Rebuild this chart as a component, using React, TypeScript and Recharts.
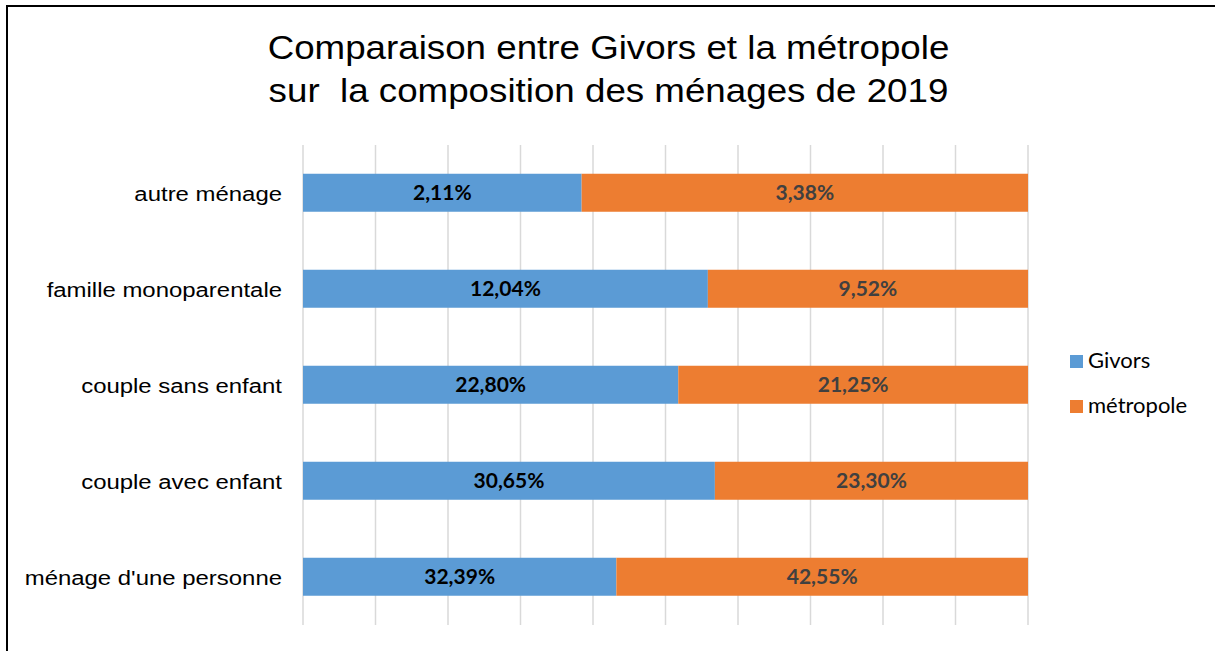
import { BarChart, Bar, XAxis, YAxis, CartesianGrid, LabelList } from "recharts";

const categories = [
  "autre ménage",
  "famille monoparentale",
  "couple sans enfant",
  "couple avec enfant",
  "ménage d'une personne",
];
const givors = [2.11, 12.04, 22.8, 30.65, 32.39];
const metropole = [3.38, 9.52, 21.25, 23.3, 42.55];
const xTicks = [0, 0.1, 0.2, 0.3, 0.4, 0.5, 0.6, 0.7, 0.8, 0.9, 1];

const data = categories.map((name, i) => ({
  name,
  givors: givors[i],
  metropole: metropole[i],
}));

const BLUE = "#5b9bd5";
const ORANGE = "#ed7d31";

const fmt = (v: any) => Number(v).toFixed(2).replace(".", ",") + "%";

function CategoryTick({ x, y, payload }: any) {
  return (
    <text
      x={0}
      y={0}
      transform={`translate(${x},${y}) scale(1.14,1)`}
      textAnchor="end"
      dy="0.36em"
      fontFamily="'Liberation Sans', Arial, sans-serif"
      fontSize={21}
      fill="#000"
    >
      {payload.value}
    </text>
  );
}

const EmptyTick = () => <g />;

const titleLine = {
  position: "absolute" as const,
  left: 0,
  width: 1217,
  textAlign: "center" as const,
  fontFamily: "'Liberation Sans', Arial, sans-serif",
  fontSize: 34,
  color: "#000",
  whiteSpace: "pre" as const,
  transform: "scaleX(1.08)",
  lineHeight: "34px",
};

const legendText = {
  position: "absolute" as const,
  left: 1088,
  fontFamily: "Lato, sans-serif",
  fontSize: 22,
  color: "#000",
  lineHeight: "22px",
};

export default function App() {
  return (
    <div
      style={{
        position: "absolute",
        left: 0,
        top: 0,
        width: 1215,
        height: 651,
        background: "#fff",
        overflow: "hidden",
      }}
    >
      <div
        style={{
          position: "absolute",
          left: 6,
          top: 5,
          width: 1300,
          height: 700,
          borderTop: "2px solid #000",
          borderLeft: "2px solid #000",
        }}
      />
      <div style={{ ...titleLine, top: 30 }}>Comparaison entre Givors et la métropole</div>
      <div style={{ ...titleLine, top: 73 }}>sur  la composition des ménages de 2019</div>

      <div style={{ position: "absolute", left: 0, top: 0 }}>
        <BarChart
          width={1215}
          height={651}
          data={data}
          layout="vertical"
          stackOffset="expand"
          barCategoryGap="30%"
          margin={{ top: 145, right: 187, bottom: 26, left: 0 }}
        >
          <CartesianGrid horizontal={false} stroke="#d9d9d9" strokeWidth={1.5} />
          <XAxis
            type="number"
            domain={[0, 1]}
            ticks={xTicks}
            interval={0}
            tick={<EmptyTick />}
            axisLine={false}
            tickLine={false}
            height={0}
          />
          <YAxis
            type="category"
            dataKey="name"
            width={303}
            axisLine={false}
            tickLine={false}
            tickMargin={15}
            tick={<CategoryTick />}
          />
          <Bar dataKey="givors" stackId="a" fill={BLUE} isAnimationActive={false}>
            <LabelList
              dataKey="givors"
              position="center"
              formatter={fmt}
              fill="#000"
              fontFamily="Lato, sans-serif"
              fontWeight="bold"
              fontSize={21}
            />
          </Bar>
          <Bar dataKey="metropole" stackId="a" fill={ORANGE} isAnimationActive={false}>
            <LabelList
              dataKey="metropole"
              position="center"
              formatter={fmt}
              fill="#404040"
              fontFamily="Lato, sans-serif"
              fontWeight="bold"
              fontSize={21}
            />
          </Bar>
        </BarChart>
      </div>

      <div style={{ position: "absolute", left: 1070, top: 355, width: 13, height: 13, background: BLUE }} />
      <div style={{ ...legendText, top: 349 }}>Givors</div>
      <div style={{ position: "absolute", left: 1070, top: 400, width: 13, height: 13, background: ORANGE }} />
      <div style={{ ...legendText, top: 394 }}>métropole</div>
    </div>
  );
}
